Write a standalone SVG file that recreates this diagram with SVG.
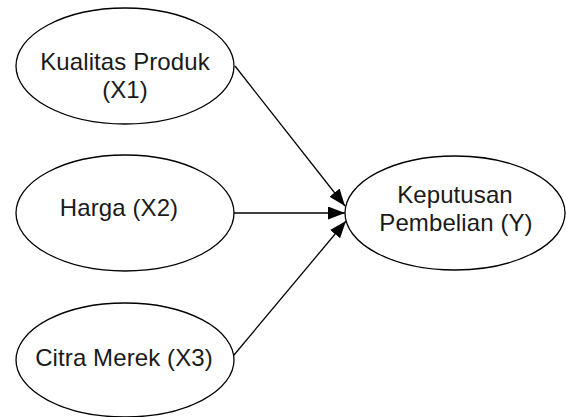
<svg xmlns="http://www.w3.org/2000/svg" width="566" height="417" viewBox="0 0 566 417">
  <style>
    .node ellipse { fill: #ffffff; stroke: #000000; stroke-width: 1.3; }
    .node text { font-family: "Liberation Sans", Arial, sans-serif; font-size: 24px; letter-spacing: 0.1px; fill: #1a1a1a; text-anchor: middle; }
    .edge { stroke: #000000; stroke-width: 1.3; fill: none; marker-end: url(#arrow); }
  </style>
  <defs>
    <!-- filled triangular arrowhead shared by all connectors -->
    <marker id="arrow" viewBox="0 0 17 13" refX="17" refY="6.5" markerWidth="17" markerHeight="13" markerUnits="userSpaceOnUse" orient="auto">
      <path d="M0,0 L17,6.5 L0,13 Z" fill="#000000"/>
    </marker>
  </defs>
  <rect width="566" height="417" fill="#ffffff"/>

  <g id="connectors">
    <line class="edge" x1="235" y1="66" x2="345" y2="206"/>
    <line class="edge" x1="234" y1="213" x2="345" y2="213"/>
    <line class="edge" x1="234" y1="355" x2="346" y2="221"/>
  </g>

  <g id="x1" class="node">
    <ellipse cx="125" cy="66" rx="109" ry="58"/>
    <text x="125" y="70">Kualitas Produk</text>
    <text x="125" y="98">(X1)</text>
  </g>

  <g id="x2" class="node">
    <ellipse cx="125" cy="213" rx="109" ry="58"/>
    <text x="119" y="216">Harga (X2)</text>
  </g>

  <g id="x3" class="node">
    <ellipse cx="125" cy="360" rx="109" ry="57"/>
    <text x="124" y="366">Citra Merek (X3)</text>
  </g>

  <g id="y" class="node">
    <ellipse cx="455" cy="213" rx="110" ry="57"/>
    <text x="455" y="203">Keputusan</text>
    <text x="456" y="231">Pembelian (Y)</text>
  </g>
</svg>
